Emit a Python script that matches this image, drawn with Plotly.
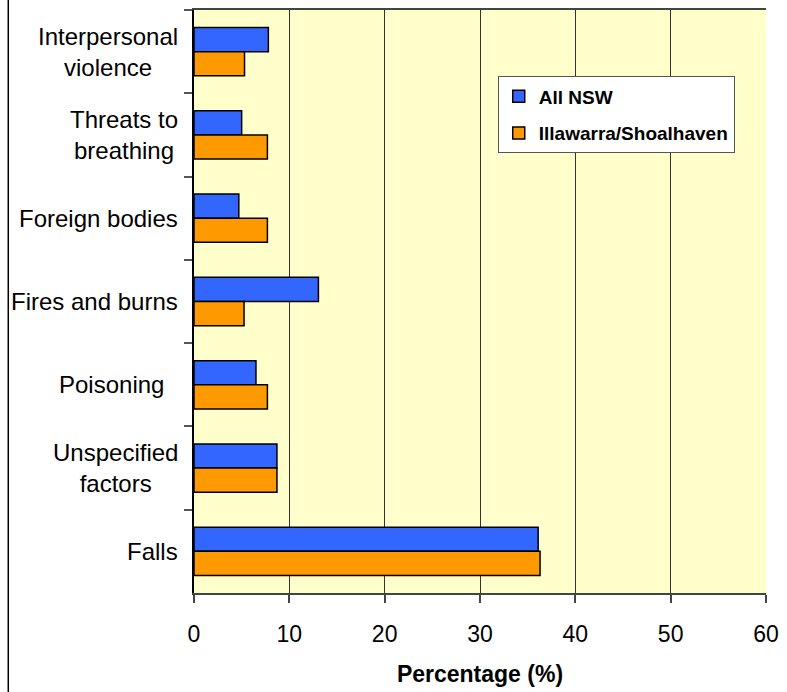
import plotly.graph_objects as go

categories = ["Interpersonal<br>violence", "Threats to<br>breathing", "Foreign bodies",
              "Fires and burns", "Poisoning\u00a0\u00a0", "Unspecified<br>factors", "Falls"]
all_nsw = [7.8, 5.0, 4.7, 13.05, 6.5, 8.7, 36.1]
illawarra = [5.3, 7.7, 7.7, 5.25, 7.7, 8.7, 36.3]
x_ticks = [0, 10, 20, 30, 40, 50, 60]

FONT = "Liberation Sans, Arial, sans-serif"

fig = go.Figure()
fig.add_trace(go.Bar(y=categories, x=all_nsw, orientation="h", name="All NSW",
                     legendgroup="a",
                     marker=dict(color="#3366FF", line=dict(color="black", width=1.5))))
fig.add_trace(go.Bar(y=categories, x=illawarra, orientation="h", name="Illawarra/Shoalhaven",
                     legendgroup="b",
                     marker=dict(color="#FF9900", line=dict(color="black", width=1.5))))

for c in categories:
    fig.add_annotation(x=0, xref="paper", y=c, yref="y", text=c, showarrow=False,
                       xanchor="right", yanchor="middle", align="center", xshift=-14,
                       font=dict(family=FONT, size=24, color="black"))

fig.add_shape(type="line", xref="paper", yref="paper", x0=-0.3247, x1=-0.3247,
              y0=-0.2, y1=1.05, line=dict(color="black", width=1.5))

fig.update_layout(
    width=787, height=692,
    margin=dict(l=194, r=17, t=8, b=99),
    paper_bgcolor="white",
    plot_bgcolor="#FFFFCC",
    barmode="group",
    bargap=0.42,
    bargroupgap=0,
    font=dict(family=FONT, size=23, color="black"),
    showlegend=True,
    legend=dict(x=0.531, y=0.886, xanchor="left", yanchor="top",
                bgcolor="white", bordercolor="#555555", borderwidth=1,
                font=dict(family=FONT, size=19, color="black", weight="bold"),
                tracegroupgap=9, traceorder="grouped", itemwidth=30),
    xaxis=dict(range=[0, 60], tickvals=x_ticks, ticktext=[str(v) for v in x_ticks],
               showgrid=True, gridcolor="#333333", gridwidth=1,
               showline=True, linecolor="#444444", linewidth=2, mirror=True,
               ticks="outside", ticklen=8, tickcolor="#444444", tickwidth=1.5,
               ticklabelstandoff=11, zeroline=False,
               tickfont=dict(family=FONT, size=23, color="black"),
               title=dict(text="<b>Percentage (%)</b>", standoff=20,
                          font=dict(family=FONT, size=23, color="black"))),
    yaxis=dict(autorange="reversed", showticklabels=False,
               showline=True, linecolor="black", linewidth=1.5,
               ticks="outside", ticklen=8, tickcolor="#555555", tickwidth=1.5,
               tickson="boundaries", showgrid=False),
)

fig.write_html("out.html")
